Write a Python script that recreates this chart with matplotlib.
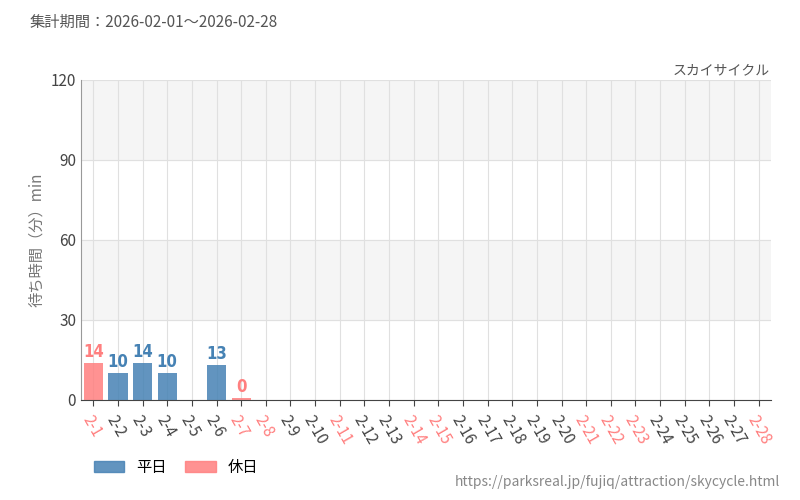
import matplotlib
matplotlib.use("Agg")
import matplotlib.pyplot as plt
from matplotlib.patches import Patch

plt.rcParams['font.family'] = ['Noto Sans CJK JP', 'DejaVu Sans']

dates = [f"2-{d}" for d in range(1, 29)]
holidays = ["2-1", "2-7", "2-8", "2-11", "2-14", "2-15", "2-21", "2-22", "2-23", "2-28"]
values = [14, 10, 14, 10, None, 13, 0] + [None] * 21

BLUE = "#4682b4"
RED = "#ff7f7f"

fig = plt.figure(figsize=(8, 5), dpi=100)
ax = fig.add_axes([81/800, 100/500, 690/800, 320/500])
ax.set_xlim(-0.5, len(dates) - 0.5)
ax.set_ylim(0, 120)
for lo in (30, 90):
    ax.axhspan(lo, lo + 30, color="#f5f5f5", zorder=0)
ax.set_yticks([0, 30, 60, 90, 120])
ax.grid(True, color="#e0e0e0", lw=0.8, zorder=0)
ax.set_axisbelow(True)

for i, (d, v) in enumerate(zip(dates, values)):
    if v is None:
        continue
    hol = d in holidays
    c = RED if hol else BLUE
    h = v if v > 0 else 0.6
    ax.bar(i, h, width=0.78, color=c, alpha=0.85, zorder=2)
    ax.text(i, h + 0.8, str(v), ha="center", va="bottom", color=c,
            fontsize=12, fontweight="bold", fontstretch="condensed",
            family=["DejaVu Sans", "Noto Sans CJK JP"])

ax.set_xticks(range(len(dates)))
ax.set_xticklabels(dates, rotation=-60, ha="left", rotation_mode="anchor", fontsize=11)
for lab, d in zip(ax.get_xticklabels(), dates):
    lab.set_color(RED if d in holidays else "#444444")
ax.tick_params(axis="y", labelsize=11, colors="#444444", length=0)
ax.tick_params(axis="x", length=4, color="#444444", pad=5)
for s in ("top", "right"):
    ax.spines[s].set_visible(False)
ax.spines["left"].set_color("#999999")
ax.spines["bottom"].set_color("#444444")
ax.set_ylabel("待ち時間（分）min", color="#777777", fontsize=11)

fig.text(30/800, 1 - 22/500, "集計期間：2026-02-01〜2026-02-28", fontsize=11, color="#555555", va="center")
fig.text(770/800, 1 - 70/500, "スカイサイクル", fontsize=10, color="#555555", ha="right", va="center")
fig.text(780/800, 1 - 482/500, "https://parksreal.jp/fujiq/attraction/skycycle.html", fontsize=10,
         color="#888888", ha="right", va="center")
fig.legend(handles=[Patch(color=BLUE, alpha=0.85, label="平日"), Patch(color=RED, alpha=0.85, label="休日")],
           loc="center left", bbox_to_anchor=(80/800, 1 - 467/500), ncol=2, frameon=False,
           fontsize=11, handlelength=2, columnspacing=1.2)
fig.savefig("out.png")
